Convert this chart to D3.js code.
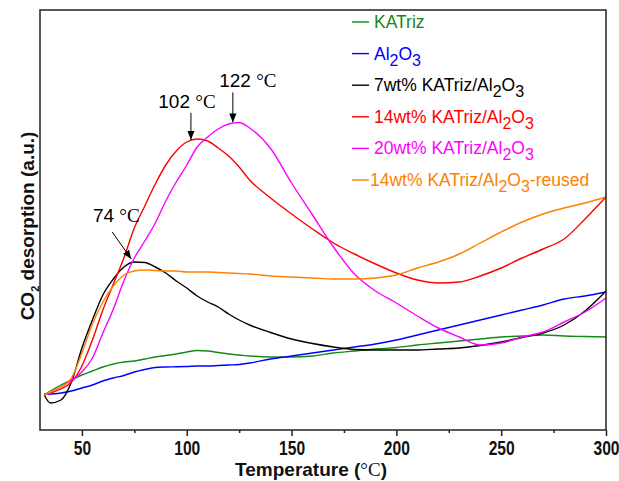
<!DOCTYPE html>
<html>
<head>
<meta charset="utf-8">
<script src="https://cdn.jsdelivr.net/npm/d3@7"></script>
<style>
  body { margin: 0; background: #fff; }
  svg { display: block; }
</style>
</head>
<body>
<div id="chart"></div>
<script>
(function () {

// temperatures (°C) at which the curves were read
var temps = [32, 35, 40, 45, 50, 55, 60, 65, 70, 75, 80, 85, 90, 95, 100, 105, 110, 115, 120, 125, 130,
             140, 150, 160, 170, 180, 190, 200, 210, 220, 230, 240, 250, 260, 270, 280, 290, 300];

// CO2 desorption signal, arbitrary units
var katriz   = [35, 39, 45, 50, 55, 59, 63, 66, 68, 69, 71, 73, 74.5, 76, 78, 79.5, 79, 77.5, 76, 75, 74,
                73, 73, 74, 77, 79, 81, 82.5, 85, 87, 89, 91, 93, 94, 95, 94, 93.5, 93];
var al2o3    = [36, 36, 37, 39, 42, 45, 49, 52, 54.5, 58, 60.5, 62.5, 63, 63.2, 63.5, 64, 64, 64.5, 65, 65.5, 67,
                71, 74, 77, 80, 83, 86, 90, 95, 100, 105, 110, 115, 120, 125, 131, 134, 138];
var kat7     = [35, 27, 30, 48, 82, 110, 135, 151, 163, 168, 167.5, 163, 157, 149, 142, 134, 128, 123, 116, 110, 105,
                97.5, 91, 86.5, 83, 80.5, 80, 80, 80, 81, 82, 84.5, 88, 92.5, 97, 105, 119, 139];
var kat14    = [35, 37, 41, 48, 64, 90, 120, 146, 172, 202, 224, 246, 265, 279, 288, 291, 289, 282, 274, 263, 250,
                232, 216, 201, 187, 176, 166, 157, 150, 147, 148, 154, 162, 172, 181, 191, 211, 233];
var kat20    = [35, 38, 43, 50, 58, 72, 97, 121, 149, 172, 189, 207, 229, 248, 265, 283, 293, 301, 306, 307.5, 302,
                281.5, 247, 215, 183, 156, 139, 127, 114, 102, 93, 85, 87, 93, 98, 108, 118, 132];
var kat14re  = [35, 38, 43, 52, 77, 106, 128, 144, 155, 159, 160, 159.5, 159, 159, 158, 158, 158, 157.5, 157, 156.5, 156,
                154, 153, 152, 151, 151, 152, 155, 162, 168, 176, 187, 198, 208, 216, 222, 227, 233];

// legend labels ("_" marks a subscript digit)
var names  = ["KATriz", "Al_2O_3", "7wt% KATriz/Al_2O_3", "14wt% KATriz/Al_2O_3",
              "20wt% KATriz/Al_2O_3", "14wt% KATriz/Al_2O_3-reused"];
var colors = ["#138a13", "#0000ff", "#000000", "#ff0000", "#ff00ff", "#ff8000"];
var values = [katriz, al2o3, kat7, kat14, kat20, kat14re];

// peak labels: temperature and the curve it points at
var peakTemps  = [74, 102, 122];
var peakSeries = [2, 3, 4];

var xTicks = [50, 100, 150, 200, 250, 300];
var xMinor = [75, 125, 175, 225, 275];

var margin = { top: 10, right: 13, bottom: 51, left: 40 };
var width = 619 - margin.left - margin.right;
var height = 481 - margin.top - margin.bottom;

var svg = d3.select("#chart").append("svg")
    .attr("width", 619)
    .attr("height", 481);

var g = svg.append("g")
    .attr("transform", "translate(" + margin.left + "," + margin.top + ")");

var x = d3.scaleLinear().domain([30, 300]).range([0, width]);
var y = d3.scaleLinear().domain([0, 420]).range([height, 0]);

var series = names.map(function (n, i) {
  return {
    name: n,
    color: colors[i],
    points: temps.map(function (t, j) { return { t: t, v: values[i][j] }; })
  };
});

var line = d3.line()
    .curve(d3.curveMonotoneX)
    .x(function (d) { return x(d.t); })
    .y(function (d) { return y(d.v); });

g.selectAll(".curve")
  .data(series)
  .enter().append("path")
    .attr("class", "curve")
    .attr("fill", "none")
    .attr("stroke", function (d) { return d.color; })
    .attr("stroke-width", 1.4)
    .attr("d", function (d) { return line(d.points); });

// frame
g.append("rect")
    .attr("width", width)
    .attr("height", height)
    .attr("fill", "none")
    .attr("stroke", "#222")
    .attr("stroke-width", 1.5);

// bottom axis
var xAxis = g.append("g")
    .attr("transform", "translate(0," + height + ")")
    .call(d3.axisBottom(x).tickValues(xTicks).tickSize(6).tickPadding(5));
xAxis.select(".domain").remove();
xAxis.selectAll("line").attr("stroke", "#222").attr("stroke-width", 1.5);
xAxis.selectAll("text")
    .style("font-family", "Arial, sans-serif")
    .style("font-weight", "bold")
    .style("font-size", "20px")
    .attr("transform", "scale(0.78,1)")
    .attr("fill", "#111");

g.append("g")
    .attr("transform", "translate(0," + height + ")")
    .call(d3.axisBottom(x).tickValues(xMinor).tickSize(3).tickFormat(""))
  .call(function (s) { s.select(".domain").remove(); })
  .selectAll("line").attr("stroke", "#222").attr("stroke-width", 1.5);

// axis titles
var xt = svg.append("text")
    .attr("x", 311)
    .attr("y", 476)
    .attr("text-anchor", "middle")
    .style("font-family", "Arial, sans-serif")
    .style("font-weight", "bold")
    .style("font-size", "19px")
    .attr("fill", "#111");
xt.append("tspan").text("Temperature (");
xt.append("tspan").style("font-family", "'Liberation Serif', 'Times New Roman', serif")
    .style("font-weight", "normal").text("°C");
xt.append("tspan").text(")");

var yt = svg.append("text")
    .attr("transform", "translate(34,226) rotate(-90)")
    .attr("text-anchor", "middle")
    .style("font-family", "Arial, sans-serif")
    .style("font-weight", "bold")
    .style("font-size", "19px")
    .attr("fill", "#111");
yt.append("tspan").text("CO");
yt.append("tspan").attr("dy", 5).style("font-size", "11px").text("2");
yt.append("tspan").attr("dy", -5).text(" desorption (a.u.)");

// legend
function richText(sel, label) {
  var lowered = false;
  label.split(/(_\d)/).forEach(function (part) {
    if (!part) return;
    if (part.charAt(0) === "_") {
      sel.append("tspan").attr("dy", lowered ? 0 : 6).style("font-size", "16px").text(part.slice(1));
      lowered = true;
    } else {
      var t = sel.append("tspan").text(part);
      if (lowered) t.attr("dy", -6);
      lowered = false;
    }
  });
}

var legend = g.append("g").attr("transform", "translate(312,12)");
var rows = legend.selectAll(".row")
  .data(series)
  .enter().append("g")
    .attr("class", "row")
    .attr("transform", function (d, i) { return "translate(0," + (i * 31.6) + ")"; });
rows.append("line")
    .attr("x1", 0).attr("x2", 17)
    .attr("stroke", function (d) { return d.color; })
    .attr("stroke-width", 1.4);
rows.append("text")
    .attr("x", function (d, i) { return i === 5 ? 18 : 22; })
    .attr("y", 6)
    .style("font-family", "Arial, sans-serif")
    .style("font-size", "17.5px")
    .attr("fill", function (d) { return d.color; })
    .each(function (d) { richText(d3.select(this), d.name); });

// peak annotations
var defs = svg.append("defs");
defs.append("marker")
    .attr("id", "arrow")
    .attr("viewBox", "0 0 10 10")
    .attr("refX", 10).attr("refY", 5)
    .attr("markerWidth", 9).attr("markerHeight", 9)
    .attr("markerUnits", "userSpaceOnUse")
    .attr("orient", "auto")
  .append("path")
    .attr("d", "M0,1L10,5L0,9Z")
    .attr("fill", "#000");

// arrow start and label position relative to the peak point
var annOffsets = [
  { ax: -20, ay: -31, tx: -16, ty: -41, ex: -1, ey: -4 },
  { ax: 0, ay: -28, tx: -4, ty: -33, ex: 0, ey: -1 },
  { ax: 0, ay: -31, tx: 15, ty: -36, ex: 0, ey: -1 }
];

var ann = g.append("g");
peakTemps.forEach(function (t, k) {
  var vals = values[peakSeries[k]];
  var i = d3.bisectLeft(temps, t);
  var f = (t - temps[i - 1]) / (temps[i] - temps[i - 1]);
  var v = vals[i - 1] + f * (vals[i] - vals[i - 1]);
  var px = x(t), py = y(v), o = annOffsets[k];

  ann.append("line")
      .attr("x1", px + o.ax).attr("y1", py + o.ay)
      .attr("x2", px + o.ex).attr("y2", py + o.ey)
      .attr("stroke", "#000")
      .attr("stroke-width", 1)
      .attr("marker-end", "url(#arrow)");
  var lab = ann.append("text")
      .attr("x", px + o.tx).attr("y", py + o.ty)
      .attr("text-anchor", "middle")
      .style("font-family", "Arial, sans-serif")
      .style("font-size", "19px")
      .attr("fill", "#000");
  lab.append("tspan").text(t + " ");
  lab.append("tspan").style("font-family", "'Liberation Serif', 'Times New Roman', serif").text("°C");
});

})();
</script>
</body>
</html>
